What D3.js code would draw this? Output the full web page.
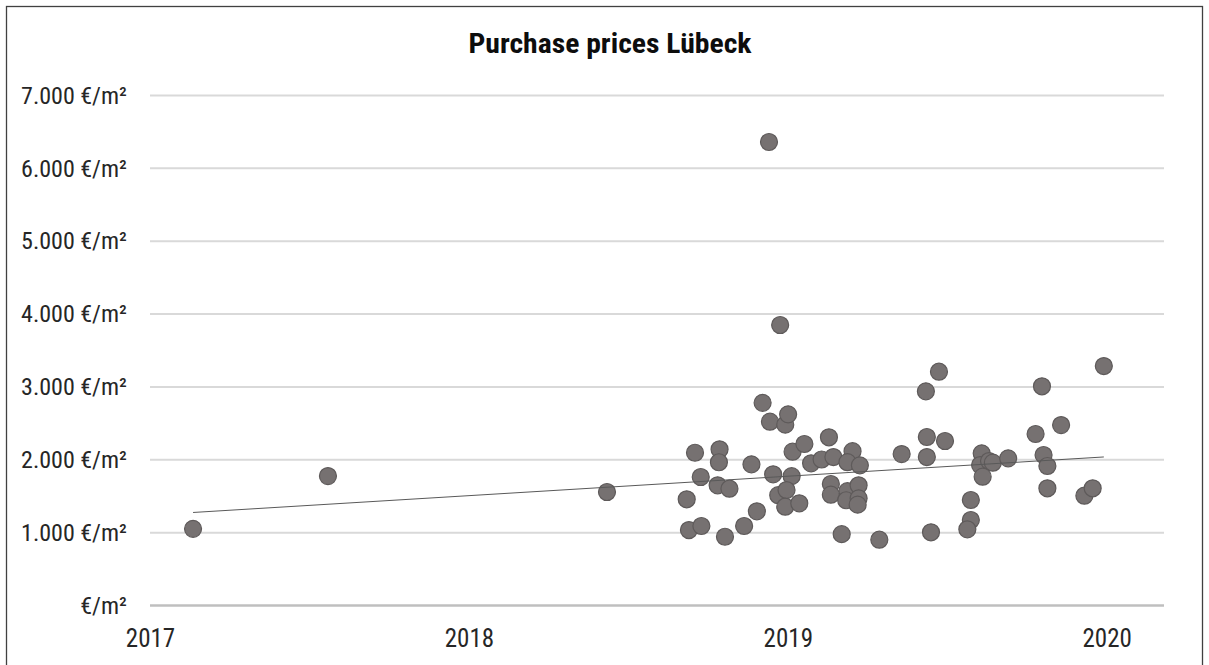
<!DOCTYPE html>
<html>
<head>
<meta charset="utf-8">
<script src="https://cdn.jsdelivr.net/npm/d3@7"></script>
<style>
    body { margin: 0; background: #fff; }
    .label { font-family: 'Liberation Sans Narrow', 'Arial Narrow', 'Roboto Condensed', sans-serif; fill: #262626; }
</style>
</head>
<body>
<div id="chart"></div>
<script>
const chartTitle = 'Purchase prices Lübeck';

// sale date as decimal year, price in €/m²
const saleYears = [
    2017.135, 2017.558, 2018.433, 2018.941, 2018.976,
    2018.709, 2018.786, 2018.784, 2018.727, 2018.780, 2018.817, 2018.683, 2018.690, 2018.729, 2018.803,
    2018.863, 2018.903, 2018.886, 2018.921, 2018.944, 2018.992, 2019.001, 2019.015, 2019.052, 2019.129,
    2018.954, 2019.012, 2018.970, 2018.996, 2018.992, 2019.036, 2019.073, 2019.106, 2019.143, 2019.203,
    2019.187, 2019.226, 2019.135, 2019.135, 2019.187, 2019.183, 2019.222, 2019.222, 2019.219, 2019.169,
    2019.287, 2019.357, 2019.474, 2019.433, 2019.797, 2019.991, 2019.436, 2019.493, 2019.436, 2019.777,
    2019.857, 2019.608, 2019.603, 2019.631, 2019.643, 2019.691, 2019.611, 2019.802, 2019.814, 2019.814,
    2019.574, 2019.574, 2019.563, 2019.449, 2019.930, 2019.956
];
const pricesPerSqm = [
    1045, 1770, 1551, 6355, 3843,
    2090, 2137, 1959, 1757, 1643, 1596, 1451, 1029, 1084, 937,
    1084, 1286, 1931, 2775, 2516, 2475, 2617, 2104, 2210, 2302,
    1794, 1768, 1507, 1578, 1349, 1396, 1945, 1997, 2031, 2111,
    1960, 1917, 1661, 1514, 1562, 1438, 1643, 1464, 1377, 972,
    896, 2072, 3202, 2933, 3002, 3280, 2306, 2251, 2031, 2347,
    2470, 2082, 1921, 1976, 1953, 2013, 1761, 2059, 1908, 1602,
    1441, 1167, 1039, 998, 1500, 1602
];

// linear trendline as shown in the chart (start / end)
const trendYears = [2017.135, 2019.991];
const trendPrices = [1270, 2032];

const yearTicks = [2017, 2018, 2019, 2020];
const priceTicks = [0, 1000, 2000, 3000, 4000, 5000, 6000, 7000];

class PriceScatter {

    constructor(_config) {
        this.config = {
            parentElement: _config.parentElement,
            containerWidth: _config.containerWidth || 1209,
            containerHeight: _config.containerHeight || 665,
            margin: {top: 95, right: 45, bottom: 60, left: 150}
        }
        this.initVis();
    }

    initVis() {
        let vis = this;

        vis.width = vis.config.containerWidth - vis.config.margin.left - vis.config.margin.right;
        vis.height = vis.config.containerHeight - vis.config.margin.top - vis.config.margin.bottom;

        vis.svg = d3.select(vis.config.parentElement).append('svg')
            .attr('width', vis.config.containerWidth)
            .attr('height', vis.config.containerHeight);

        // chart area frame
        vis.svg.append('rect')
            .attr('x', 6.5).attr('y', 6.5)
            .attr('width', 1196).attr('height', 680)
            .attr('fill', 'none')
            .attr('stroke', '#404040')
            .attr('stroke-width', 1.3);

        vis.svg.append('text')
            .attr('class', 'label')
            .attr('x', 610)
            .attr('y', 53)
            .attr('text-anchor', 'middle')
            .attr('textLength', 283)
            .attr('lengthAdjust', 'spacingAndGlyphs')
            .style('font-size', '27px')
            .style('font-weight', 'bold')
            .style('fill', '#0d0d0d')
            .text(chartTitle);

        vis.chart = vis.svg.append('g')
            .attr('transform', `translate(${vis.config.margin.left}, ${vis.config.margin.top})`);

        vis.xScale = d3.scaleLinear()
            .domain([2017, 2017 + vis.width / 318.9])
            .range([0, vis.width]);

        vis.yScale = d3.scaleLinear()
            .domain([0, 7000])
            .range([vis.height, 0]);

        const de = d3.formatLocale({decimal: ',', thousands: '.', grouping: [3], currency: ['', '€']});
        const fmt = de.format(',d');

        vis.yAxis = d3.axisLeft(vis.yScale)
            .tickValues(priceTicks)
            .tickSize(-vis.width)
            .tickPadding(23)
            .tickFormat(d => d === 0 ? '€/m²' : fmt(d) + ' €/m²');

        vis.xAxis = d3.axisBottom(vis.xScale)
            .tickValues(yearTicks)
            .tickSize(0)
            .tickPadding(24)
            .tickFormat(d3.format('d'));
    }

    renderVis() {
        let vis = this;

        const yg = vis.chart.append('g').call(vis.yAxis);
        yg.select('.domain').remove();
        yg.selectAll('.tick line')
            .attr('stroke', d => d === 0 ? '#bfbfbf' : '#d9d9d9')
            .attr('stroke-width', d => d === 0 ? 2.5 : 2);
        yg.selectAll('.tick text')
            .attr('class', 'label')
            .attr('dy', '0.34em')
            .style('font-size', '24px');

        const xg = vis.chart.append('g')
            .attr('transform', `translate(0, ${vis.height})`)
            .call(vis.xAxis);
        xg.select('.domain').remove();
        xg.selectAll('.tick text')
            .attr('class', 'label')
            .style('font-size', '25px');

        const points = saleYears.map((x, i) => ({year: x, price: pricesPerSqm[i]}));

        vis.chart.append('g').selectAll('circle')
            .data(points)
            .join('circle')
                .attr('cx', d => vis.xScale(d.year))
                .attr('cy', d => vis.yScale(d.price))
                .attr('r', 8.5)
                .attr('fill', '#767171')
                .attr('stroke', '#5e5a5a')
                .attr('stroke-width', 1.2);

        vis.chart.append('line')
            .attr('x1', vis.xScale(trendYears[0]))
            .attr('y1', vis.yScale(trendPrices[0]))
            .attr('x2', vis.xScale(trendYears[1]))
            .attr('y2', vis.yScale(trendPrices[1]))
            .attr('stroke', '#595959')
            .attr('stroke-width', 1);
    }
}

const chart = new PriceScatter({parentElement: '#chart'});
chart.renderVis();
</script>
</body>
</html>
